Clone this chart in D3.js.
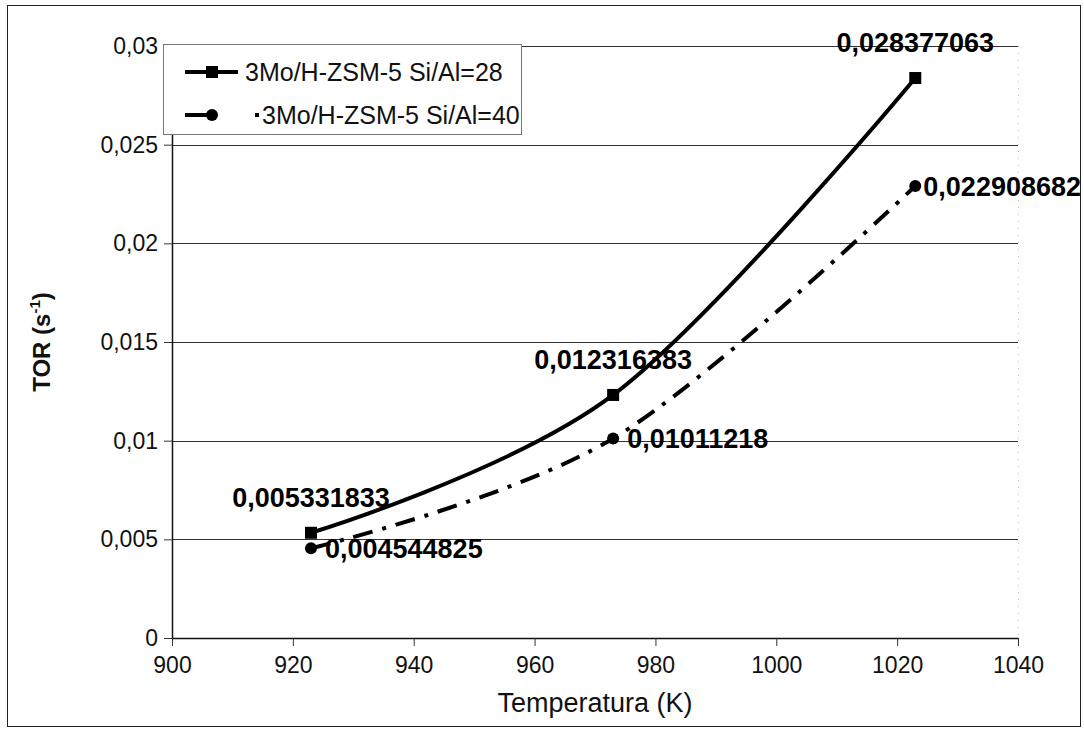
<!DOCTYPE html>
<html>
<head>
<meta charset="utf-8">
<script src="https://cdn.jsdelivr.net/npm/d3@7"></script>
<style>
  html, body { margin: 0; padding: 0; background: #fff; }
  svg { display: block; font-family: "Liberation Sans", Arial, sans-serif; }
</style>
</head>
<body>
<svg id="chart" width="1084" height="731"></svg>
<script>
// Temperatures (K) and turnover rates (s^-1) for the two catalysts
const temps = [923, 973, 1023];
const torSi28 = [0.005331833, 0.012316383, 0.028377063];
const torSi40 = [0.004544825, 0.01011218, 0.022908682];
const seriesNames = ["3Mo/H-ZSM-5 Si/Al=28", "3Mo/H-ZSM-5 Si/Al=40"];
const xTicks = [900, 920, 940, 960, 980, 1000, 1020, 1040];
const yTicks = [0, 0.005, 0.01, 0.015, 0.02, 0.025, 0.03];
const yTickLabels = ["0", "0,005", "0,01", "0,015", "0,02", "0,025", "0,03"];

const svg = d3.select("#chart");
const W = 1084, H = 731;
const plot = { left: 172, right: 1018, top: 46, bottom: 638 };

const x = d3.scaleLinear().domain([900, 1040]).range([plot.left, plot.right]);
const y = d3.scaleLinear().domain([0, 0.03]).range([plot.bottom, plot.top]);

// chart area border
svg.append("rect")
  .attr("x", 7.5).attr("y", 5.5).attr("width", 1073).attr("height", 721)
  .attr("fill", "none").attr("stroke", "#222").attr("stroke-width", 1);

// horizontal gridlines
svg.append("g").selectAll("line").data(yTicks.slice(1)).join("line")
  .attr("x1", plot.left).attr("x2", plot.right)
  .attr("y1", d => Math.round(y(d)) + 0.5).attr("y2", d => Math.round(y(d)) + 0.5)
  .attr("stroke", "#333").attr("stroke-width", 1);

// faint right edge of plot area
svg.append("line")
  .attr("x1", plot.right + 0.5).attr("x2", plot.right + 0.5)
  .attr("y1", plot.top).attr("y2", plot.bottom)
  .attr("stroke", "#bbb").attr("stroke-width", 1).attr("stroke-dasharray", "1 6");

// axes
const xAxis = d3.axisBottom(x).tickValues(xTicks).tickSize(8).tickSizeOuter(0).tickFormat(d3.format("d"));
const yAxis = d3.axisLeft(y).tickValues(yTicks).tickSize(8).tickSizeOuter(0)
  .tickFormat((d, i) => yTickLabels[i]);

const gx = svg.append("g").attr("transform", `translate(0,${plot.bottom})`).call(xAxis);
gx.select(".domain").attr("stroke", "#111").attr("stroke-width", 1.5);
gx.selectAll(".tick line").attr("stroke", "#333");
gx.selectAll(".tick text").attr("font-size", 23).attr("fill", "#111")
  .attr("font-family", "'Liberation Sans', Arial, sans-serif").attr("dy", "1.05em");

const gy = svg.append("g").attr("transform", `translate(${plot.left},0)`).call(yAxis);
gy.select(".domain").attr("stroke", "#111").attr("stroke-width", 1.5);
gy.selectAll(".tick line").attr("stroke", "#333");
gy.selectAll(".tick text").attr("font-size", 23).attr("fill", "#111")
  .attr("font-family", "'Liberation Sans', Arial, sans-serif").attr("x", -14);

// axis titles
svg.append("text")
  .attr("x", (plot.left + plot.right) / 2).attr("y", 712)
  .attr("text-anchor", "middle").attr("font-size", 27).attr("fill", "#111")
  .text("Temperatura (K)");

const yTitle = svg.append("text")
  .attr("transform", `translate(50,${(plot.top + plot.bottom) / 2}) rotate(-90)`)
  .attr("text-anchor", "middle").attr("font-size", 24).attr("font-weight", "bold").attr("fill", "#111");
yTitle.append("tspan").text("TOR (s");
yTitle.append("tspan").attr("font-size", 15).attr("dy", -10).text("-1");
yTitle.append("tspan").attr("dy", 10).text(")");

// smoothed series lines
const line = d3.line().x(d => x(d[0])).y(d => y(d[1])).curve(d3.curveCardinal.tension(0));
const pts28 = temps.map((t, i) => [t, torSi28[i]]);
const pts40 = temps.map((t, i) => [t, torSi40[i]]);

svg.append("path").datum(pts28).attr("d", line)
  .attr("fill", "none").attr("stroke", "#000").attr("stroke-width", 4);
svg.append("path").datum(pts40).attr("d", line)
  .attr("fill", "none").attr("stroke", "#000").attr("stroke-width", 4)
  .attr("stroke-dasharray", "20 10 4 10");

// markers
svg.append("g").selectAll("rect").data(pts28).join("rect")
  .attr("x", d => x(d[0]) - 6).attr("y", d => y(d[1]) - 6)
  .attr("width", 12).attr("height", 12).attr("fill", "#000");
svg.append("g").selectAll("circle").data(pts40).join("circle")
  .attr("cx", d => x(d[0])).attr("cy", d => y(d[1])).attr("r", 6).attr("fill", "#000");

// value labels
const fmt = v => String(v).replace(".", ",");
const chartRight = 1081;
svg.append("g").selectAll("text").data(pts28).join("text")
  .attr("x", d => x(d[0])).attr("y", d => y(d[1]) - 26)
  .attr("text-anchor", "middle").attr("font-size", 27).attr("font-weight", "bold").attr("fill", "#000")
  .text(d => fmt(d[1]));
svg.append("g").selectAll("text").data(pts40).join("text")
  .attr("y", d => y(d[1])).attr("dy", "0.36em")
  .attr("font-size", 27).attr("font-weight", "bold").attr("fill", "#000")
  .text(d => fmt(d[1]))
  .attr("x", function(d) {
    const w = this.getComputedTextLength();
    return Math.min(x(d[0]) + 14, chartRight - w);
  });

// legend
const lg = svg.append("g");
lg.append("rect").attr("x", 163.5).attr("y", 44.5).attr("width", 358).attr("height", 90)
  .attr("fill", "#fff").attr("stroke", "#777").attr("stroke-width", 1);
const rowY = [72, 115];
lg.append("line").attr("x1", 185).attr("x2", 238).attr("y1", rowY[0]).attr("y2", rowY[0])
  .attr("stroke", "#000").attr("stroke-width", 4);
lg.append("rect").attr("x", 206).attr("y", rowY[0] - 6).attr("width", 12).attr("height", 12).attr("fill", "#000");
lg.append("line").attr("x1", 185).attr("x2", 260).attr("y1", rowY[1]).attr("y2", rowY[1])
  .attr("stroke", "#000").attr("stroke-width", 4).attr("stroke-dasharray", "22 48 4 20");
lg.append("circle").attr("cx", 212).attr("cy", rowY[1]).attr("r", 6).attr("fill", "#000");
lg.append("text").attr("x", 245).attr("y", rowY[0]).attr("dy", "0.36em")
  .attr("font-size", 25).attr("fill", "#111").text(seriesNames[0]);
lg.append("text").attr("x", 262).attr("y", rowY[1]).attr("dy", "0.36em")
  .attr("font-size", 25).attr("fill", "#111").text(seriesNames[1]);
</script>
</body>
</html>
